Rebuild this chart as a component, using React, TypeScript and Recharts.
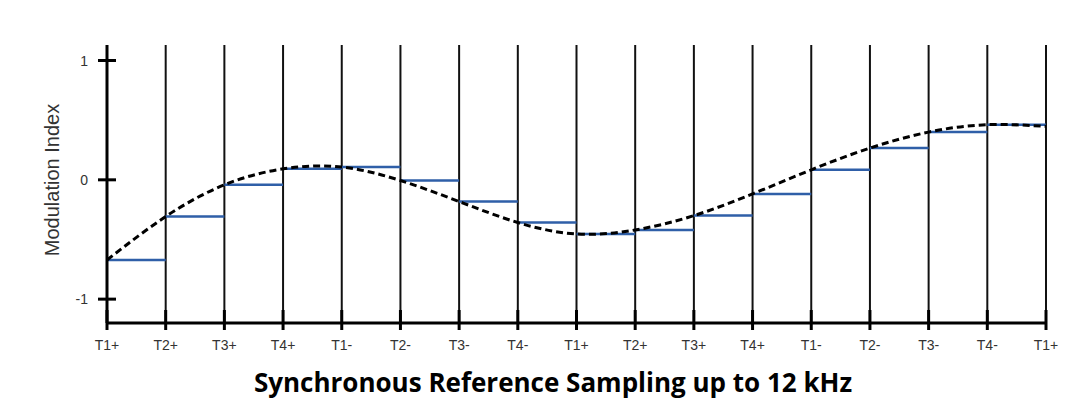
import { ComposedChart, Line, XAxis, YAxis, CartesianGrid } from "recharts";

// tick labels along the switching sequence
const xLabels = [
  "T1+", "T2+", "T3+", "T4+", "T1-", "T2-", "T3-", "T4-",
  "T1+", "T2+", "T3+", "T4+", "T1-", "T2-", "T3-", "T4-", "T1+",
];
const xTicks = xLabels.map((_, i) => i);
const yTicks = [-1, 0, 1];

// reference value at each sampling instant (last one is only the curve end)
const samples = [
  -0.672, -0.308, -0.042, 0.092, 0.107, -0.006, -0.182, -0.358,
  -0.454, -0.42, -0.3, -0.118, 0.084, 0.266, 0.4, 0.462, 0.448,
];

const curveData = samples.map((v, i) => ({ x: i, v }));

// held value between two samples, broken with nulls so no vertical jumps
const stepData = samples.slice(0, -1).flatMap((v, i) => [
  { x: i, v },
  { x: i + 1, v },
  { x: i + 1, v: null },
]);

const XTick = (props: any) => {
  const { x, y, payload } = props;
  return (
    <g>
      <line x1={x} x2={x} y1={y - 13} y2={y + 7} stroke="#000" strokeWidth={3} />
      <text
        x={x}
        y={y + 27}
        textAnchor="middle"
        fontSize={14}
        fontFamily="Liberation Sans, Arial, sans-serif"
        fill="#333"
      >
        {xLabels[payload.value]}
      </text>
    </g>
  );
};

const YTick = (props: any) => {
  const { x, y, payload } = props;
  return (
    <g>
      <line x1={x - 9} x2={x + 9} y1={y} y2={y} stroke="#000" strokeWidth={3} />
      <text
        x={x - 19}
        y={y + 5}
        textAnchor="end"
        fontSize={14}
        fontFamily="Liberation Sans, Arial, sans-serif"
        fill="#333"
      >
        {payload.value}
      </text>
    </g>
  );
};

export default function App() {
  return (
    <div
      style={{
        position: "absolute",
        left: 0,
        top: 0,
        width: 1083,
        height: 402,
        background: "#fff",
        overflow: "hidden",
      }}
    >
      <ComposedChart
        width={1083}
        height={402}
        margin={{ top: 45, right: 37, left: 47, bottom: 49 }}
      >
        <CartesianGrid horizontal={false} stroke="#111" strokeWidth={2} />
        <XAxis
          dataKey="x"
          type="number"
          domain={[0, 16]}
          ticks={xTicks}
          interval={0}
          height={30}
          tickSize={0}
          tickMargin={0}
          tickLine={false}
          axisLine={{ stroke: "#000", strokeWidth: 3 }}
          tick={<XTick />}
        />
        <YAxis
          type="number"
          domain={[-1.2, 1.13]}
          ticks={yTicks}
          width={60}
          tickSize={0}
          tickMargin={0}
          tickLine={false}
          axisLine={{ stroke: "#000", strokeWidth: 3 }}
          tick={<YTick />}
          allowDataOverflow
        />
        <Line
          data={stepData}
          dataKey="v"
          type="linear"
          stroke="#2f5fa8"
          strokeWidth={2.5}
          dot={false}
          connectNulls={false}
          isAnimationActive={false}
        />
        <Line
          data={curveData}
          dataKey="v"
          type="natural"
          stroke="#000"
          strokeWidth={3}
          strokeDasharray="7 4"
          dot={false}
          isAnimationActive={false}
        />
      </ComposedChart>
      <div
        style={{
          position: "absolute",
          left: 52,
          top: 180,
          transform: "translate(-50%, -50%) rotate(-90deg)",
          fontFamily: "Liberation Sans, Arial, sans-serif",
          fontSize: 20,
          color: "#333",
          whiteSpace: "nowrap",
        }}
      >
        Modulation Index
      </div>
      <div
        style={{
          position: "absolute",
          left: 203,
          width: 700,
          top: 364,
          textAlign: "center",
          fontFamily: "Open Sans, sans-serif",
          fontWeight: 700,
          fontSize: 26,
          color: "#000",
          whiteSpace: "nowrap",
        }}
      >
        Synchronous Reference Sampling up to 12 kHz
      </div>
    </div>
  );
}
